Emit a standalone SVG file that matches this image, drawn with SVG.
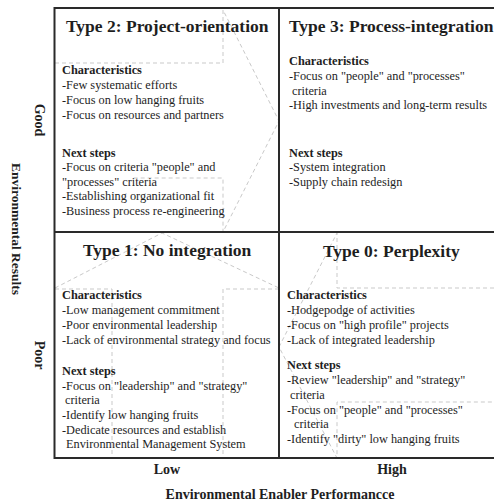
<svg xmlns="http://www.w3.org/2000/svg" width="494" height="504" viewBox="0 0 494 504">
<style>
text{font-family:"Liberation Serif","Times New Roman",serif;fill:#1e1e1e}
.t{font-size:17.5px;font-weight:bold}
.h{font-size:12.3px;font-weight:bold}
.b{font-size:12.3px}
.ax{font-size:14px;font-weight:bold}
.grid{stroke:#2a2a2a;stroke-width:2;fill:none}
.dash{stroke:#c9c9c9;stroke-width:1;stroke-dasharray:4 3;fill:none}
</style>
<rect width="494" height="504" fill="#fff"/>
<g id="connectors">
<path class="dash" d="M55,63 H223 V10 L279,121 L223,232 V178 H133"/>
<path class="dash" d="M55,288 L162,233 L279,288 M279,289 H223 V458 M112,289 V458 M55,289 H112"/>
<path class="dash" d="M494,288 H337 V233 L279,347 L337,458 V402 H494"/>
</g>
<g id="grid">
<path class="grid" d="M54.5,8 H494 M54.5,232 H494 M54.5,458 H494 M54.5,7 V459 M279,8 V458"/>
</g>
<g id="type2">
<text class="t" x="66" y="32">Type 2: Project-orientation</text>
<text class="h" x="62" y="74">Characteristics</text>
<text class="b" x="62" y="89">-Few systematic efforts</text>
<text class="b" x="62" y="104">-Focus on low hanging fruits</text>
<text class="b" x="62" y="118.5">-Focus on resources and partners</text>
<text class="h" x="62" y="157">Next steps</text>
<text class="b" x="62" y="171">-Focus on criteria "people" and</text>
<text class="b" x="62" y="185.5">"processes" criteria</text>
<text class="b" x="62" y="200">-Establishing organizational fit</text>
<text class="b" x="62" y="214.5">-Business process re-engineering</text>
</g>
<g id="type3">
<text class="t" x="289" y="32">Type 3: Process-integration</text>
<text class="h" x="289" y="65">Characteristics</text>
<text class="b" x="289" y="80">-Focus on "people" and "processes"</text>
<text class="b" x="292" y="94.5">criteria</text>
<text class="b" x="289" y="109">-High investments and long-term results</text>
<text class="h" x="289" y="157">Next steps</text>
<text class="b" x="289" y="171">-System integration</text>
<text class="b" x="289" y="185.5">-Supply chain redesign</text>
</g>
<g id="type1">
<text class="t" x="83" y="256">Type 1: No integration</text>
<text class="h" x="62" y="299">Characteristics</text>
<text class="b" x="62" y="314">-Low management commitment</text>
<text class="b" x="62" y="329">-Poor environmental leadership</text>
<text class="b" x="62" y="344">-Lack of environmental strategy and focus</text>
<text class="h" x="62" y="375">Next steps</text>
<text class="b" x="62" y="389.5">-Focus on "leadership" and "strategy"</text>
<text class="b" x="65" y="404">criteria</text>
<text class="b" x="62" y="419">-Identify low hanging fruits</text>
<text class="b" x="62" y="433.5">-Dedicate resources and establish</text>
<text class="b" x="66" y="448">Environmental Management System</text>
</g>
<g id="type0">
<text class="t" x="323" y="257">Type 0: Perplexity</text>
<text class="h" x="287" y="299">Characteristics</text>
<text class="b" x="287" y="314">-Hodgepodge of activities</text>
<text class="b" x="287" y="329">-Focus on "high profile" projects</text>
<text class="b" x="287" y="344">-Lack of integrated leadership</text>
<text class="h" x="287" y="369">Next steps</text>
<text class="b" x="287" y="384">-Review "leadership" and "strategy"</text>
<text class="b" x="290" y="399">criteria</text>
<text class="b" x="287" y="413.5">-Focus on "people" and "processes"</text>
<text class="b" x="294" y="428">criteria</text>
<text class="b" x="287" y="443">-Identify "dirty" low hanging fruits</text>
</g>
<g id="axes">
<text class="ax" x="167" y="474" text-anchor="middle">Low</text>
<text class="ax" x="392" y="474" text-anchor="middle">High</text>
<text class="ax" x="280" y="499" text-anchor="middle">Environmental Enabler Performancce</text>
<text class="ax" transform="translate(35,120) rotate(90)" text-anchor="middle">Good</text>
<text class="ax" transform="translate(35,355) rotate(90)" text-anchor="middle">Poor</text>
<text class="ax" style="font-size:13.5px" transform="translate(12,229) rotate(90)" text-anchor="middle">Environmental Results</text>
</g>
</svg>
